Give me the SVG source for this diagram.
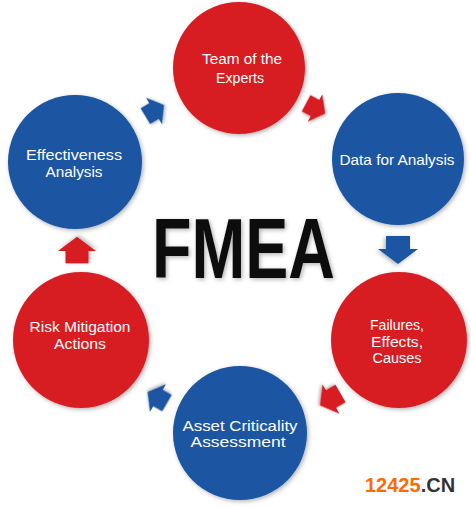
<svg xmlns="http://www.w3.org/2000/svg" width="471" height="507" viewBox="0 0 471 507">
<style>
.red{fill:#d71c24}
.blue{fill:#1a55a2}
.lbl{font-family:"Liberation Sans",Arial,sans-serif;font-size:15.5px;fill:#ffffff;text-anchor:middle}
.sh{filter:url(#shadow)}
</style>
<defs>
<filter id="shadow" x="-20%" y="-20%" width="140%" height="140%">
<feDropShadow dx="1.5" dy="1.5" stdDeviation="2" flood-color="#000" flood-opacity="0.3"/>
</filter>
<path id="arr" d="M-13,-12 H0 V-20 L15,0 L0,20 V12 H-13 Z"/>
</defs>
<rect width="471" height="507" fill="#ffffff"/>
<g id="connectors">
<use href="#arr" class="blue sh" transform="translate(154,111) rotate(-31) scale(0.78)"/>
<use href="#arr" class="red sh" transform="translate(315,108) rotate(28) scale(0.78)"/>
<use href="#arr" class="blue sh" transform="translate(398,249) rotate(90)"/>
<use href="#arr" class="red sh" transform="translate(331,399) rotate(150) scale(0.85)"/>
<use href="#arr" class="blue sh" transform="translate(158,398) rotate(-150) scale(0.8)"/>
<use href="#arr" class="red sh" transform="translate(77,251) rotate(-90) scale(0.95)"/>
</g>
<g id="team">
<circle cx="239" cy="68" r="66" class="red sh"/>
<text class="lbl" x="242" y="64" textLength="80" lengthAdjust="spacingAndGlyphs">Team of the</text>
<text class="lbl" x="240" y="83" textLength="48" lengthAdjust="spacingAndGlyphs">Experts</text>
</g>
<g id="data">
<circle cx="398" cy="159" r="66" class="blue sh"/>
<text class="lbl" x="397" y="165" textLength="115" lengthAdjust="spacingAndGlyphs">Data for Analysis</text>
</g>
<g id="failures">
<circle cx="399" cy="340" r="68" class="red sh"/>
<text class="lbl" x="397" y="330" textLength="54" lengthAdjust="spacingAndGlyphs">Failures,</text>
<text class="lbl" x="397" y="347" textLength="52" lengthAdjust="spacingAndGlyphs">Effects,</text>
<text class="lbl" x="397" y="363" textLength="49" lengthAdjust="spacingAndGlyphs">Causes</text>
</g>
<g id="asset">
<circle cx="240" cy="433" r="67" class="blue sh"/>
<text class="lbl" x="240" y="431" textLength="115" lengthAdjust="spacingAndGlyphs">Asset Criticality</text>
<text class="lbl" x="238" y="447" textLength="95" lengthAdjust="spacingAndGlyphs">Assessment</text>
</g>
<g id="risk">
<circle cx="81" cy="340" r="68" class="red sh"/>
<text class="lbl" x="80" y="332" textLength="101" lengthAdjust="spacingAndGlyphs">Risk Mitigation</text>
<text class="lbl" x="80" y="349" textLength="52" lengthAdjust="spacingAndGlyphs">Actions</text>
</g>
<g id="effectiveness">
<circle cx="75" cy="162" r="67" class="blue sh"/>
<text class="lbl" x="74" y="160" textLength="96" lengthAdjust="spacingAndGlyphs">Effectiveness</text>
<text class="lbl" x="74" y="177" textLength="57" lengthAdjust="spacingAndGlyphs">Analysis</text>
</g>
<g id="title">
<text x="243.5" y="278" text-anchor="middle" font-family="'Liberation Sans',Arial,sans-serif" font-weight="bold" font-size="85" fill="#111111" textLength="183" lengthAdjust="spacingAndGlyphs" style="filter:url(#shadow)">FMEA</text>
</g>
<g id="watermark">
<text x="365" y="492" font-family="'Liberation Sans',Arial,sans-serif" font-weight="bold" font-size="20"><tspan fill="#ff6a00">12425</tspan><tspan fill="#333333">.CN</tspan></text>
</g>
</svg>
